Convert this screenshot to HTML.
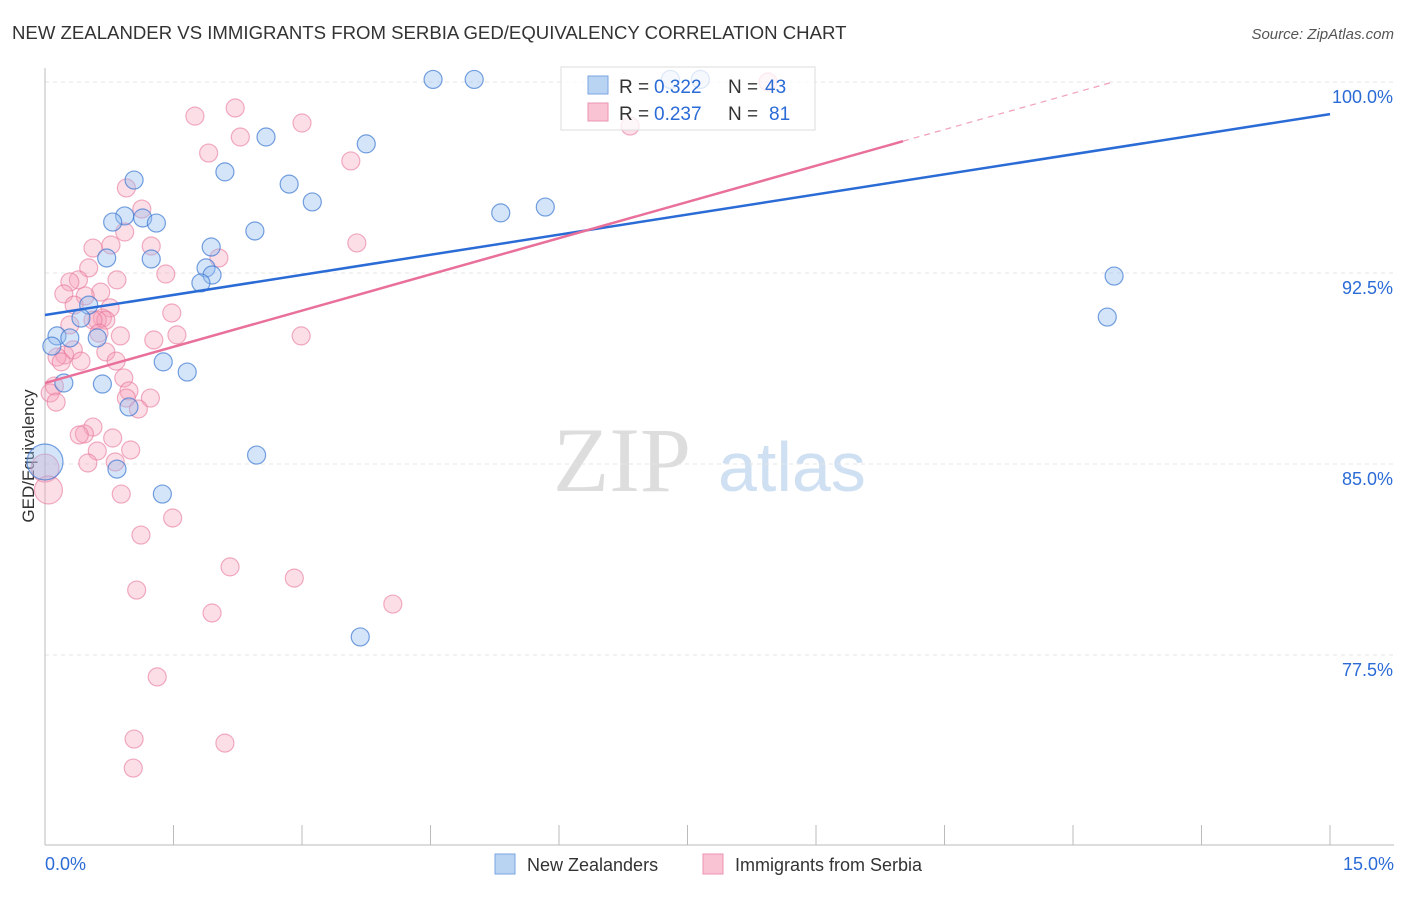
<!DOCTYPE html>
<html><head><meta charset="utf-8"><style>
body{margin:0;background:#fff;font-family:"Liberation Sans",sans-serif;}
svg text{font-family:"Liberation Sans",sans-serif;}
</style></head><body>
<svg id="chart" width="1406" height="892">
<text x="12" y="39" font-size="18.6" fill="#333">NEW ZEALANDER VS IMMIGRANTS FROM SERBIA GED/EQUIVALENCY CORRELATION CHART</text>
<text x="1394" y="39" font-size="15" fill="#555" font-style="italic" text-anchor="end">Source: ZipAtlas.com</text>
<text x="34" y="456" font-size="17" fill="#333" transform="rotate(-90 34 456)" text-anchor="middle">GED/Equivalency</text>
<text x="553" y="491" font-size="92" fill="#ddd" style="font-family:'Liberation Serif',serif">ZIP</text>
<text x="718" y="491" font-size="70" fill="#cfe0f3">atlas</text>
<g id="grid"></g><g id="pts"></g><g id="lines"></g>
<g>
<rect x="561" y="67" width="254" height="63" fill="rgba(255,255,255,0.75)" stroke="#ddd"/>
<rect x="588" y="76" width="20" height="18" fill="#b9d3f3" stroke="#7aa6e0"/>
<rect x="588" y="103" width="20" height="18" fill="#f9c3d3" stroke="#ec93b0"/>
<text x="619" y="93" font-size="19" fill="#333">R =</text>
<text x="654" y="93" font-size="19" fill="#2a6bd6">0.322</text>
<text x="728" y="93" font-size="19" fill="#333">N =</text>
<text x="765" y="93" font-size="19" fill="#2a6bd6">43</text>
<text x="619" y="120" font-size="19" fill="#333">R =</text>
<text x="654" y="120" font-size="19" fill="#2a6bd6">0.237</text>
<text x="728" y="120" font-size="19" fill="#333">N =</text>
<text x="769" y="120" font-size="19" fill="#2a6bd6">81</text>
</g>
<g>
<rect x="495" y="854" width="20" height="20" fill="#b9d3f3" stroke="#7aa6e0"/>
<text x="527" y="871" font-size="18" fill="#333">New Zealanders</text>
<rect x="703" y="854" width="20" height="20" fill="#f9c3d3" stroke="#ec93b0"/>
<text x="735" y="871" font-size="18" fill="#333">Immigrants from Serbia</text>
</g>
</svg>
<script>
const xTicks=[0,1.5,3,4.5,6,7.5,9,10.5,12,13.5,15];
const yTicks=[77.5,85,92.5,100];
const yTickLabels=["77.5%","85.0%","92.5%","100.0%"];
const blueX=[4.53,5.01,7.30,7.65,12.48,12.40,2.58,3.75,2.10,2.85,3.12,1.04,0.93,0.79,1.14,1.30,2.45,1.94,1.24,0.72,1.88,1.95,1.82,0.51,0.42,0.14,0.29,0.61,0.08,1.38,1.66,0.22,0.67,0.98,2.47,0.84,0,1.37,3.68,5.32,5.84];
const blueY=[100.1,100.1,100.1,100.1,92.38,90.77,97.84,97.57,96.47,95.99,95.29,96.15,94.74,94.50,94.66,94.46,94.15,93.52,93.05,93.09,92.70,92.42,92.11,91.24,90.73,90.03,89.95,89.95,89.63,89.01,88.61,88.18,88.14,87.24,85.35,84.80,85.08,83.82,78.21,94.86,95.09];
const blueR=[9,9,9,9,9,9,9,9,9,9,9,9,9,9,9,9,9,9,9,9,9,9,9,9,9,9,9,9,9,9,9,9,9,9,9,9,18,9,9,9,9];
const pinkX=[1.75,2.22,3.00,2.28,1.91,3.57,6.83,8.44,0.95,1.13,0.93,0.77,0.56,1.24,3.64,1.41,2.03,0.51,0.39,0.29,0.22,0.84,0.65,0.47,0.34,0.76,0.67,0.61,0.71,0.56,1.48,0.29,0.88,1.54,1.27,2.99,0.63,0.23,0.33,0.14,0.71,0.83,0.42,0.19,0.11,0.06,0.13,0.92,0.98,0.95,1.23,1.09,0.56,0.46,0.40,0.79,0.61,1.00,0.50,0.82,0,0.04,0.89,1.49,1.12,2.16,2.91,4.06,1.95,1.07,1.31,1.04,2.10,1.03];
const pinkY=[98.66,98.98,98.39,97.84,97.21,96.90,98.27,100.0,95.84,95.01,94.11,93.60,93.48,93.56,93.68,92.46,93.09,92.70,92.23,92.15,91.68,92.23,91.75,91.60,91.24,91.13,90.73,90.65,90.65,90.65,90.93,90.46,90.03,90.07,89.87,90.03,90.14,89.28,89.48,89.20,89.40,89.04,89.04,89.01,88.06,87.79,87.43,88.38,87.87,87.59,87.59,87.16,86.45,86.18,86.14,86.02,85.51,85.55,85.04,85.08,84.84,83.98,83.82,82.88,82.21,80.96,80.52,79.50,79.15,80.05,76.64,74.20,74.04,73.06];
const blueLine=[90.85,98.74];
const pinkLine=[88.18,0.948];
const NS="http://www.w3.org/2000/svg";
const X=v=>45+v/15*1285, Y=v=>82+(100-v)/7.5*191;
function mk(t,a,p){const e=document.createElementNS(NS,t);for(const k in a)e.setAttribute(k,a[k]);p.appendChild(e);return e;}
const grid=document.getElementById('grid');
yTicks.forEach((t,i)=>{
 const l=mk('line',{x1:45,x2:1394,y1:Y(t),y2:Y(t),stroke:'#e4e4e4','stroke-dasharray':'4,4'},grid);
 
 
 const tx=mk('text',{x:1393,y:Y(t)+21,'font-size':18,fill:'#2a6bd6','text-anchor':'end'},grid);tx.textContent=yTickLabels[i];
 
 
});
const ax=mk('line',{x1:45,x2:45,y1:68,y2:845,stroke:'#bbb'},grid);


const bx=mk('line',{x1:45,x2:1394,y1:845,y2:845,stroke:'#bbb'},grid);


xTicks.forEach(t=>{const l=mk('line',{x1:X(t),x2:X(t),y1:825,y2:845,stroke:'#bbb'},grid);
 
 });
const xl0=mk('text',{x:45,y:870,'font-size':18,fill:'#2a6bd6'},grid);xl0.textContent='0.0%';


const xl1=mk('text',{x:1394,y:870,'font-size':18,fill:'#2a6bd6','text-anchor':'end'},grid);xl1.textContent='15.0%';


const pts=document.getElementById('pts');
pinkX.forEach((x,i)=>{const r=(x===0||x===0.04)?14:9;const c=mk('circle',{cx:X(x),cy:Y(pinkY[i]),r:r,fill:'rgba(245,160,185,0.35)',stroke:'rgba(232,120,155,0.6)','stroke-width':1.2},pts);
 
 });
blueX.forEach((x,i)=>{const c=mk('circle',{cx:X(x),cy:Y(blueY[i]),r:blueR[i],fill:'rgba(150,190,240,0.4)',stroke:'rgba(60,120,210,0.7)','stroke-width':1.2},pts);
 
 });
const lines=document.getElementById('lines');
const bl=mk('line',{x1:X(0),y1:Y(blueLine[0]),x2:X(15),y2:Y(blueLine[1]),stroke:'#2a6bd6','stroke-width':2.5},lines);


const xe=10.016, xd=(100-pinkLine[0])/pinkLine[1];
const pl=mk('line',{x1:X(0),y1:Y(pinkLine[0]),x2:X(xe),y2:Y(pinkLine[0]+pinkLine[1]*xe),stroke:'#e8709a','stroke-width':2.5},lines);


const pd=mk('line',{x1:X(xe),y1:Y(pinkLine[0]+pinkLine[1]*xe),x2:X(xd),y2:Y(100),stroke:'#f0a0b8','stroke-width':1.2,'stroke-dasharray':'6,5'},lines);


</script>
</body></html>
